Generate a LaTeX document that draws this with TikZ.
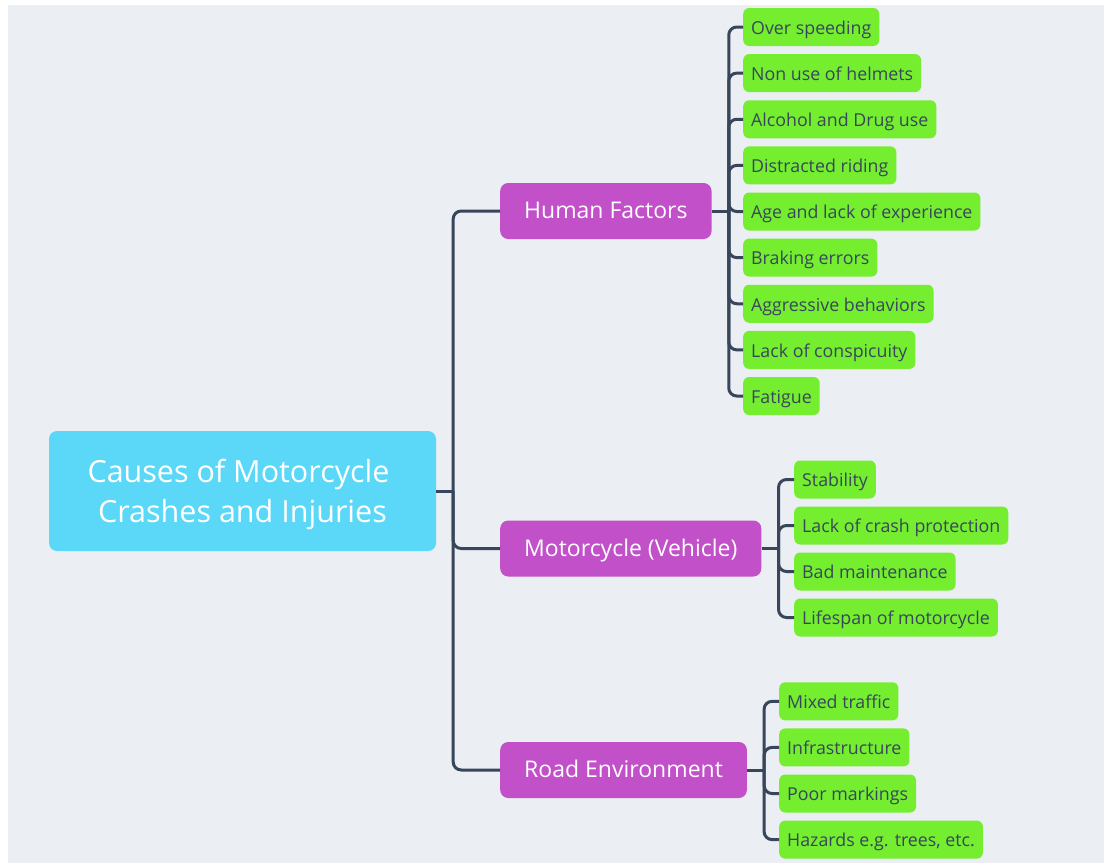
\documentclass[tikz,border=0pt]{standalone}
\usepackage{fontspec}
\setmainfont{Open Sans}
\definecolor{bgc}{RGB}{235,238,243}
\definecolor{linec}{RGB}{56,70,92}
\definecolor{textdark}{RGB}{56,70,92}
\definecolor{leafgreen}{RGB}{117,238,48}
\definecolor{branchpurple}{RGB}{194,80,201}
\definecolor{rootcyan}{RGB}{91,216,248}
\tikzset{
  conn/.style={draw=linec, line width=3pt, rounded corners=8pt},
  leaf/.style={fill=leafgreen, rounded corners=6pt, anchor=west, minimum height=38pt, inner xsep=8pt, inner ysep=0pt, text height=16pt, text depth=1.4pt, text=textdark, font=\fontsize{17.8}{20}\selectfont},
  branch/.style={fill=branchpurple, rounded corners=8pt, anchor=west, minimum height=56pt, inner xsep=24pt, inner ysep=0pt, text height=19pt, text depth=3.4pt, text=white, font=\fontsize{23}{26}\selectfont},
  rootbox/.style={fill=rootcyan, rounded corners=8pt, minimum width=387pt, minimum height=120pt, inner sep=0pt, text=white, font=\fontsize{30.5}{40}\selectfont}
}
\begin{document}
\begin{tikzpicture}[x=1pt,y=-1pt]
\useasboundingbox (0,0) rectangle (1104,863);
\fill[white] (0,0) rectangle (1104,863);
\fill[bgc] (8,5) rectangle (1104,863);

\node[rootbox] (root) at (242.5,491) {\begin{tabular}{@{}c@{}}\rule{0pt}{34pt}Causes of Motorcycle\kern8pt\\Crashes and Injuries\end{tabular}};

\node[branch] (hf) at (500,211) {Human Factors};
\node[branch] (mv) at (500,548.5) {Motorcycle (Vehicle)};
\node[branch] (re) at (500,770) {Road Environment};

\node[leaf] (h1) at (743,27) {Over speeding};
\node[leaf] (h2) at (743,73.1) {Non use of helmets};
\node[leaf] (h3) at (743,119.25) {Alcohol and Drug use};
\node[leaf] (h4) at (743,165.4) {Distracted riding};
\node[leaf] (h5) at (743,211.5) {Age and lack of experience};
\node[leaf] (h6) at (743,257.6) {Braking errors};
\node[leaf] (h7) at (743,303.75) {Aggressive behaviors};
\node[leaf] (h8) at (743,349.9) {Lack of conspicuity};
\node[leaf] (h9) at (743,396) {Fatigue};

\node[leaf] (m1) at (794,479.5) {Stability};
\node[leaf] (m2) at (794,525.5) {Lack of crash protection};
\node[leaf] (m3) at (794,571.5) {Bad maintenance};
\node[leaf] (m4) at (794,617.5) {Lifespan of motorcycle};

\node[leaf] (r1) at (779,701.3) {Mixed traffic};
\node[leaf] (r2) at (779,747.4) {Infrastructure};
\node[leaf] (r3) at (779,793.5) {Poor markings};
\node[leaf] (r4) at (779,839.6) {Hazards e.g. trees, etc.};

\path (root.east) ++(17,0) coordinate (tj);
\path (hf.east) ++(17,0) coordinate (hj);
\path (mv.east) ++(17,0) coordinate (mj);
\path (re.east) ++(17,0) coordinate (rj);

\draw[conn] (root.east) -- (tj);
\foreach \b in {hf,mv,re} \draw[conn] (tj) |- (\b.west);

\draw[conn] (hf.east) -- (hj);
\foreach \l in {h1,h2,h3,h4,h5,h6,h7,h8,h9} \draw[conn] (hj) |- (\l.west);

\draw[conn] (mv.east) -- (mj);
\foreach \l in {m1,m2,m3,m4} \draw[conn] (mj) |- (\l.west);

\draw[conn] (re.east) -- (rj);
\foreach \l in {r1,r2,r3,r4} \draw[conn] (rj) |- (\l.west);
\end{tikzpicture}
\end{document}
